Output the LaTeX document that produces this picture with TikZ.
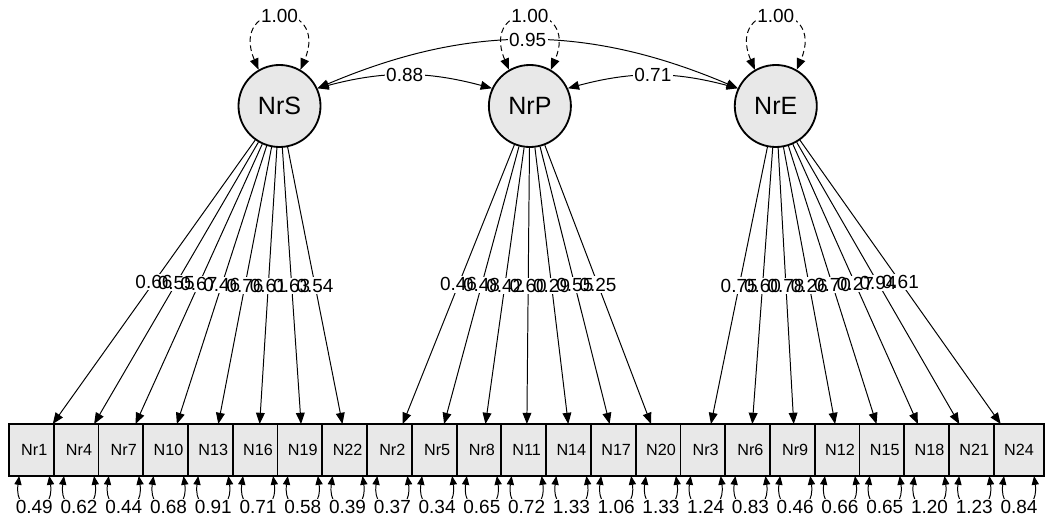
\documentclass[tikz,border=0pt]{standalone}
\usepackage{fontspec}
\setmainfont{Liberation Sans}
\usetikzlibrary{positioning,arrows.meta,calc}
\tikzstyle{lat}=[circle, draw=black, fill=black!9, line width=1.3pt,
                 minimum size=2.05cm, inner sep=0pt, font=\fontsize{17.8}{20}\selectfont]
\tikzstyle{obox}=[rectangle, draw=black, fill=black!9, line width=1.3pt,
                  minimum width=12.625mm, minimum height=13mm, inner sep=0pt,
                  outer sep=0pt, font=\fontsize{11.5}{13}\selectfont]
\tikzstyle{ld}=[-{Triangle[length=2.8mm,width=2.2mm]}, line width=0.7pt]
\tikzstyle{cov}=[{Triangle[length=2.8mm,width=2.2mm]}-{Triangle[length=2.8mm,width=2.2mm]}, line width=0.7pt]
\tikzstyle{var}=[cov, dash pattern=on 4pt off 2.5pt]
\tikzstyle{res}=[{Triangle[length=2.2mm,width=1.8mm]}-{Triangle[length=2.2mm,width=1.8mm]}, line width=0.7pt]
\tikzstyle{elbl}=[font=\fontsize{13.5}{15}\selectfont, inner sep=1pt]
\tikzstyle{wlbl}=[elbl, fill=white]
\begin{document}
\begin{tikzpicture}[x=0.025cm, y=0.025cm]
\useasboundingbox (0,0) rectangle (1045,521);

% latent factors
\node (NRS) [lat] at (279.5,415) {NrS};
\node (NRP) [lat, right=4.1625cm of NRS] {NrP};
\node (NRE) [lat, right=4.05cm of NRP] {NrE};

% indicators
\node (NR1) [obox] at (34.25,71) {Nr1};
\node (NR4) [obox, right=-1.4375mm of NR1] {Nr4};
\node (NR7) [obox, right=-1.4375mm of NR4] {Nr7};
\node (NR10) [obox, right=-1.4375mm of NR7] {N10};
\node (NR13) [obox, right=-1.4375mm of NR10] {N13};
\node (NR16) [obox, right=-1.4375mm of NR13] {N16};
\node (NR19) [obox, right=-1.4375mm of NR16] {N19};
\node (NR22) [obox, right=-1.4375mm of NR19] {N22};
\node (NR2) [obox, right=-1.4375mm of NR22] {Nr2};
\node (NR5) [obox, right=-1.4375mm of NR2] {Nr5};
\node (NR8) [obox, right=-1.4375mm of NR5] {Nr8};
\node (NR11) [obox, right=-1.4375mm of NR8] {N11};
\node (NR14) [obox, right=-1.4375mm of NR11] {N14};
\node (NR17) [obox, right=-1.4375mm of NR14] {N17};
\node (NR20) [obox, right=-1.4375mm of NR17] {N20};
\node (NR3) [obox, right=-1.4375mm of NR20] {Nr3};
\node (NR6) [obox, right=-1.4375mm of NR3] {Nr6};
\node (NR9) [obox, right=-1.4375mm of NR6] {Nr9};
\node (NR12) [obox, right=-1.4375mm of NR9] {N12};
\node (NR15) [obox, right=-1.4375mm of NR12] {N15};
\node (NR18) [obox, right=-1.4375mm of NR15] {N18};
\node (NR21) [obox, right=-1.4375mm of NR18] {N21};
\node (NR24) [obox, right=-1.4375mm of NR21] {N24};

% loadings
\draw[ld] (NRS) -- coordinate[midway] (LS1) (NR1);
\draw[ld] (NRS) -- coordinate[midway] (LS2) (NR4);
\draw[ld] (NRS) -- coordinate[midway] (LS3) (NR7);
\draw[ld] (NRS) -- coordinate[midway] (LS4) (NR10);
\draw[ld] (NRS) -- coordinate[midway] (LS5) (NR13);
\draw[ld] (NRS) -- coordinate[midway] (LS6) (NR16);
\draw[ld] (NRS) -- coordinate[midway] (LS7) (NR19);
\draw[ld] (NRS) -- coordinate[midway] (LS8) (NR22);
\draw[ld] (NRP) -- coordinate[midway] (LP1) (NR2);
\draw[ld] (NRP) -- coordinate[midway] (LP2) (NR5);
\draw[ld] (NRP) -- coordinate[midway] (LP3) (NR8);
\draw[ld] (NRP) -- coordinate[midway] (LP4) (NR11);
\draw[ld] (NRP) -- coordinate[midway] (LP5) (NR14);
\draw[ld] (NRP) -- coordinate[midway] (LP6) (NR17);
\draw[ld] (NRP) -- coordinate[midway] (LP7) (NR20);
\draw[ld] (NRE) -- coordinate[midway] (LE1) (NR3);
\draw[ld] (NRE) -- coordinate[midway] (LE2) (NR6);
\draw[ld] (NRE) -- coordinate[midway] (LE3) (NR9);
\draw[ld] (NRE) -- coordinate[midway] (LE4) (NR12);
\draw[ld] (NRE) -- coordinate[midway] (LE5) (NR15);
\draw[ld] (NRE) -- coordinate[midway] (LE6) (NR18);
\draw[ld] (NRE) -- coordinate[midway] (LE7) (NR21);
\draw[ld] (NRE) -- coordinate[midway] (LE8) (NR24);
\def\loadlist{LS1/0.66,LS2/0.55,LS3/0.67,LS4/0.46,LS5/0.76,LS6/0.61,LS7/0.63,LS8/0.54,
  LP1/0.46,LP2/0.48,LP3/0.42,LP4/0.60,LP5/0.29,LP6/0.55,LP7/0.25,
  LE1/0.75,LE2/0.60,LE3/0.78,LE4/0.26,LE5/0.70,LE6/0.27,LE7/0.94,LE8/0.61}
\foreach \p/\v in \loadlist \node[wlbl] at (\p) {\phantom{\v}};
\foreach \p/\v in \loadlist \node[elbl] at (\p) {\v};

% residual variances
\draw[res] (NR1.-120) .. controls +(-6,-41) and +(6,-41) .. node[wlbl]{0.49} (NR1.-60);
\draw[res] (NR4.-120) .. controls +(-6,-41) and +(6,-41) .. node[wlbl]{0.62} (NR4.-60);
\draw[res] (NR7.-120) .. controls +(-6,-41) and +(6,-41) .. node[wlbl]{0.44} (NR7.-60);
\draw[res] (NR10.-120) .. controls +(-6,-41) and +(6,-41) .. node[wlbl]{0.68} (NR10.-60);
\draw[res] (NR13.-120) .. controls +(-6,-41) and +(6,-41) .. node[wlbl]{0.91} (NR13.-60);
\draw[res] (NR16.-120) .. controls +(-6,-41) and +(6,-41) .. node[wlbl]{0.71} (NR16.-60);
\draw[res] (NR19.-120) .. controls +(-6,-41) and +(6,-41) .. node[wlbl]{0.58} (NR19.-60);
\draw[res] (NR22.-120) .. controls +(-6,-41) and +(6,-41) .. node[wlbl]{0.39} (NR22.-60);
\draw[res] (NR2.-120) .. controls +(-6,-41) and +(6,-41) .. node[wlbl]{0.37} (NR2.-60);
\draw[res] (NR5.-120) .. controls +(-6,-41) and +(6,-41) .. node[wlbl]{0.34} (NR5.-60);
\draw[res] (NR8.-120) .. controls +(-6,-41) and +(6,-41) .. node[wlbl]{0.65} (NR8.-60);
\draw[res] (NR11.-120) .. controls +(-6,-41) and +(6,-41) .. node[wlbl]{0.72} (NR11.-60);
\draw[res] (NR14.-120) .. controls +(-6,-41) and +(6,-41) .. node[wlbl]{1.33} (NR14.-60);
\draw[res] (NR17.-120) .. controls +(-6,-41) and +(6,-41) .. node[wlbl]{1.06} (NR17.-60);
\draw[res] (NR20.-120) .. controls +(-6,-41) and +(6,-41) .. node[wlbl]{1.33} (NR20.-60);
\draw[res] (NR3.-120) .. controls +(-6,-41) and +(6,-41) .. node[wlbl]{1.24} (NR3.-60);
\draw[res] (NR6.-120) .. controls +(-6,-41) and +(6,-41) .. node[wlbl]{0.83} (NR6.-60);
\draw[res] (NR9.-120) .. controls +(-6,-41) and +(6,-41) .. node[wlbl]{0.46} (NR9.-60);
\draw[res] (NR12.-120) .. controls +(-6,-41) and +(6,-41) .. node[wlbl]{0.66} (NR12.-60);
\draw[res] (NR15.-120) .. controls +(-6,-41) and +(6,-41) .. node[wlbl]{0.65} (NR15.-60);
\draw[res] (NR18.-120) .. controls +(-6,-41) and +(6,-41) .. node[wlbl]{1.20} (NR18.-60);
\draw[res] (NR21.-120) .. controls +(-6,-41) and +(6,-41) .. node[wlbl]{1.23} (NR21.-60);
\draw[res] (NR24.-120) .. controls +(-6,-41) and +(6,-41) .. node[wlbl]{0.84} (NR24.-60);

% factor variances
\draw[var] (NRS.120) .. controls +(-30,71) and +(30,71) .. node[wlbl]{1.00} (NRS.60);
\draw[var] (NRP.120) .. controls +(-30,71) and +(30,71) .. node[wlbl]{1.00} (NRP.60);
\draw[var] (NRE.120) .. controls +(-30,71) and +(30,71) .. node[wlbl]{1.00} (NRE.60);

% factor covariances
\draw[cov] (NRS.25) to[bend left=15] node[wlbl]{0.88} (NRP.155);
\draw[cov] (NRP.25) to[bend left=15] node[wlbl]{0.71} (NRE.155);
\draw[cov] (NRS.25) to[bend left=23] node[wlbl]{0.95} (NRE.155);

\end{tikzpicture}
\end{document}
